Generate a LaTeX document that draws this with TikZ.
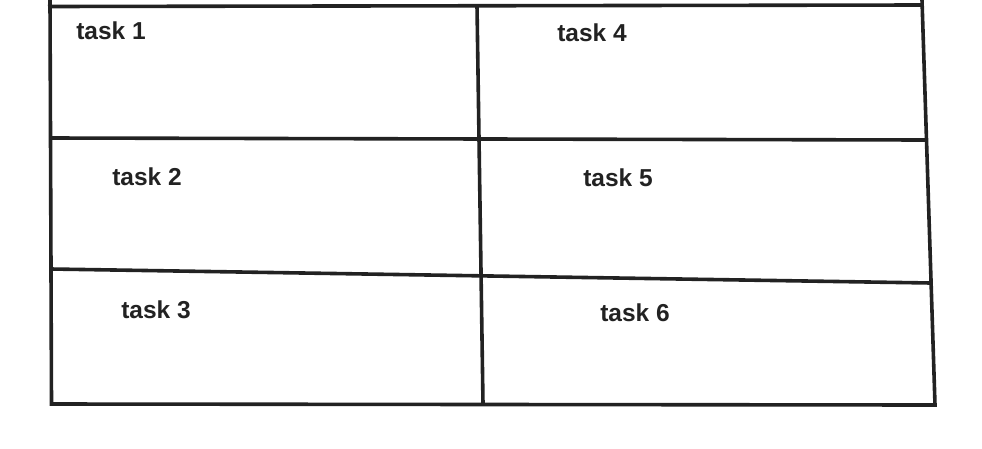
\documentclass[tikz,border=0pt]{standalone}
\usepackage{fontspec}
\setmainfont{Liberation Sans}
\begin{document}
\begin{tikzpicture}[x=1pt,y=-1pt,
  rule/.style={line width=3.6pt,draw={rgb,255:red,34;green,34;blue,34},line join=miter},
  lbl/.style={font=\fontsize{24.5}{28}\selectfont\bfseries,text={rgb,255:red,34;green,34;blue,34},inner sep=0pt,anchor=center}]
\useasboundingbox (0,0) rectangle (982,448);
% corner / grid coordinates
\coordinate (tl) at (50,0);
\coordinate (tr) at (922,0);
\coordinate (bl) at (51.5,404);
\coordinate (br) at (935,405);
\coordinate (topL) at (48,6.5);
\coordinate (topR) at (921,5);
\coordinate (midT) at (477,6);
\coordinate (midB) at (483,404);
\coordinate (h1L) at (50,138);
\coordinate (h1R) at (926,140);
\coordinate (h2L) at (51,269);
\coordinate (h2R) at (931,283);
% outline
\draw[rule] (tl) -- (bl) -- (br) -- (tr);
\draw[rule] (topL) -- (topR);
\draw[rule] (midT) -- (midB);
\draw[rule] (h1L) -- (h1R);
\draw[rule] (h2L) -- (h2R);
% labels
\node[lbl] (t1) at (111,31) {task 1};
\node[lbl] (t4) at (592,33) {task 4};
\node[lbl] (t2) at (147,177) {task 2};
\node[lbl] (t5) at (618,178) {task 5};
\node[lbl] (t3) at (156,310) {task 3};
\node[lbl] (t6) at (635,313) {task 6};
\end{tikzpicture}
\end{document}
